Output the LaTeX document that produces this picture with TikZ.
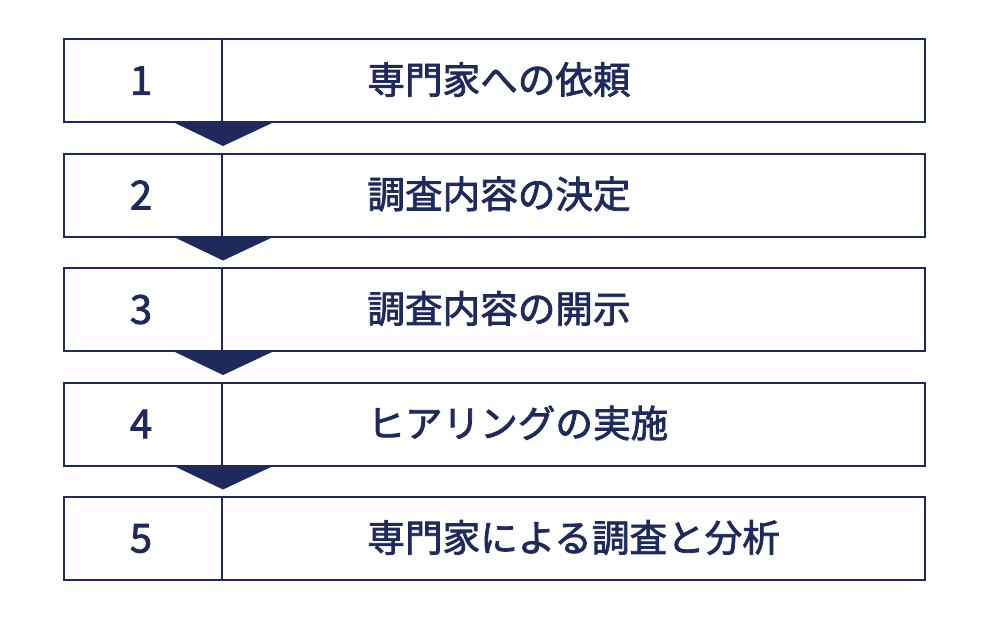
\documentclass[tikz,border=0pt]{standalone}
\usepackage{fontspec}
\newfontfamily\cjk{Noto Sans CJK JP}[FakeBold=2]
\definecolor{navy}{HTML}{1F2A5C}
\begin{document}
\begin{tikzpicture}[x=0.5pt,y=-0.5pt,
  numbox/.style={draw=navy,line width=1pt,minimum width=79pt,minimum height=41.5pt,inner sep=0pt,anchor=north west,fill=white},
  txtbox/.style={draw=navy,line width=1pt,minimum width=351.5pt,minimum height=41.5pt,inner sep=0pt,anchor=north west,fill=white},
  numlbl/.style={text=navy,font=\cjk\fontsize{20pt}{22pt}\selectfont},
  steplbl/.style={text=navy,font=\cjk\fontsize{18.8pt}{21pt}\selectfont,anchor=west,inner sep=0pt},
  arrowtri/.style={fill=navy,draw=none}]
\useasboundingbox (0,0) rectangle (1000,618);
\foreach \i/\t in {1/専門家への依頼,2/調査内容の決定,3/調査内容の開示,4/ヒアリングの実施,5/専門家による調査と分析}{
  \pgfmathsetmacro\top{38+114.5*(\i-1)}
  \node[numbox] (n\i) at (63,\top) {};
  \node[txtbox] (b\i) at (221,\top) {};
  \node[numlbl] at ([xshift=-1pt]n\i.center) {\i};
  \node[steplbl] (t\i) at ([xshift=73pt,yshift=0.5pt]b\i.west) {\t};
}
\foreach \i in {1,2,3,4}{
  \fill[arrowtri] ([xshift=-24pt]n\i.south east) -- ([xshift=24.5pt]n\i.south east) -- ([yshift=-11.5pt]n\i.south east) -- cycle;
}
\end{tikzpicture}
\end{document}
